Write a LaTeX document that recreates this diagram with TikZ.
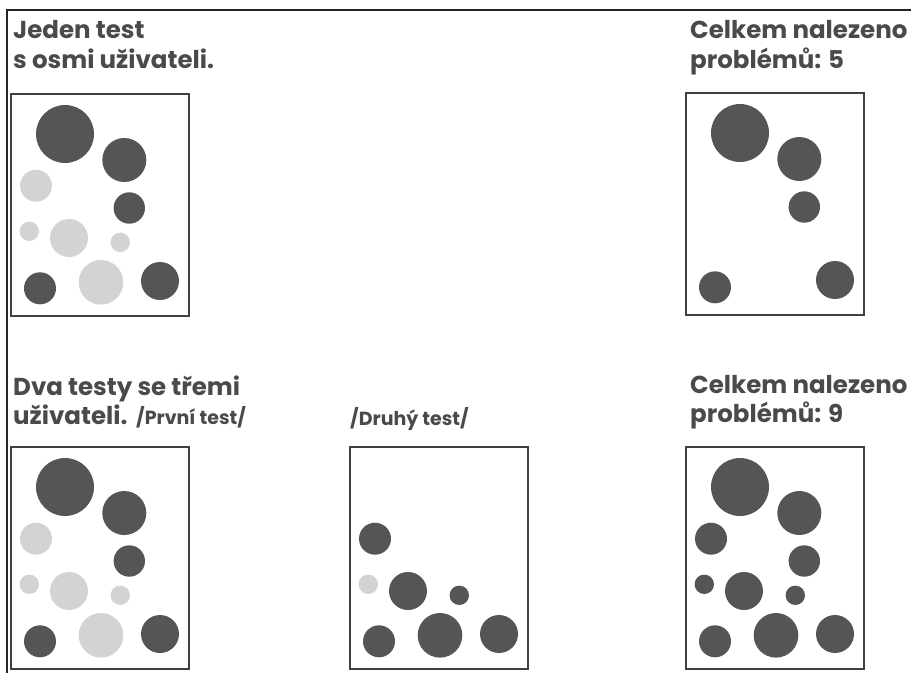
\documentclass[tikz,border=0pt]{standalone}
\usepackage{fontspec}
\setmainfont{Poppins}
\definecolor{dk}{HTML}{555555}
\definecolor{lt}{HTML}{D3D3D3}
\definecolor{tx}{HTML}{4A4A4A}
\tikzset{
  frame/.style={draw=black!85, line width=1.3pt},
  panel/.style={draw=black!75, line width=1.1pt},
  dkdot/.style={fill=dk},
  ltdot/.style={fill=lt},
  head/.style={anchor=base west, inner sep=0pt, text=tx, font=\bfseries\fontsize{24.5}{24.5}\selectfont},
  sub/.style={anchor=base west, inner sep=0pt, text=tx, font=\bfseries\fontsize{19}{19}\selectfont},
}
\newcommand\ptA[1]{\fill[#1] (54,40) circle[radius=29pt];}
\newcommand\ptB[1]{\fill[#1] (113.3,66) circle[radius=22pt];}
\newcommand\ptC[1]{\fill[#1] (25,91.7) circle[radius=16pt];}
\newcommand\ptD[1]{\fill[#1] (118.3,114) circle[radius=15.7pt];}
\newcommand\ptE[1]{\fill[#1] (18.3,137.3) circle[radius=9.7pt];}
\newcommand\ptF[1]{\fill[#1] (58,144) circle[radius=19pt];}
\newcommand\ptG[1]{\fill[#1] (109.3,148.3) circle[radius=9.7pt];}
\newcommand\ptH[1]{\fill[#1] (29,194.3) circle[radius=16pt];}
\newcommand\ptI[1]{\fill[#1] (90,188.3) circle[radius=22.3pt];}
\newcommand\ptJ[1]{\fill[#1] (149,187) circle[radius=19pt];}
\newcommand\panelbox{\draw[panel] (0,0) rectangle (178,222);}
\begin{document}
\begin{tikzpicture}[x=1pt,y=-1pt]
\useasboundingbox (0,0) rectangle (911,673);
\fill[white] (0,0) rectangle (911,673);
% outer frame
\coordinate (tl) at (7,10);
\coordinate (tr) at (911,10);
\coordinate (bl) at (7,673);
\draw[frame] (bl) -- (tl) -- (tr);
% headings
\node[head] (t1a) at (13,38) {Jeden test};
\node[head] (t1b) at (13,68) {s osmi uživateli.};
\node[head] (t2a) at (690,38) {Celkem nalezeno};
\node[head] (t2b) at (690,68) {problémů: 5};
\node[head] (t3a) at (13,395) {Dva testy se třemi};
\node[head] (t3b) at (13,424) {uživateli.};
\node[sub] (t3c) at (136,424) {/První test/};
\node[sub] (t4) at (350,425) {/Druhý test/};
\node[head] (t5a) at (690,393) {Celkem nalezeno};
\node[head] (t5b) at (690,422) {problémů: 9};
% panel 1
\begin{scope}[shift={(11,94)}]
  \panelbox
  \ptA{dkdot}\ptB{dkdot}\ptC{ltdot}\ptD{dkdot}\ptE{ltdot}
  \ptF{ltdot}\ptG{ltdot}\ptH{dkdot}\ptI{ltdot}\ptJ{dkdot}
\end{scope}
% panel 2
\begin{scope}[shift={(686,93)}]
  \panelbox
  \ptA{dkdot}\ptB{dkdot}\ptD{dkdot}\ptH{dkdot}\ptJ{dkdot}
\end{scope}
% panel 3
\begin{scope}[shift={(11,447)}]
  \panelbox
  \ptA{dkdot}\ptB{dkdot}\ptC{ltdot}\ptD{dkdot}\ptE{ltdot}
  \ptF{ltdot}\ptG{ltdot}\ptH{dkdot}\ptI{ltdot}\ptJ{dkdot}
\end{scope}
% panel 4
\begin{scope}[shift={(350,447)}]
  \panelbox
  \ptC{dkdot}\ptE{ltdot}\ptF{dkdot}\ptG{dkdot}
  \ptH{dkdot}\ptI{dkdot}\ptJ{dkdot}
\end{scope}
% panel 5
\begin{scope}[shift={(686,447)}]
  \panelbox
  \ptA{dkdot}\ptB{dkdot}\ptC{dkdot}\ptD{dkdot}\ptE{dkdot}
  \ptF{dkdot}\ptG{dkdot}\ptH{dkdot}\ptI{dkdot}\ptJ{dkdot}
\end{scope}
\end{tikzpicture}
\end{document}
